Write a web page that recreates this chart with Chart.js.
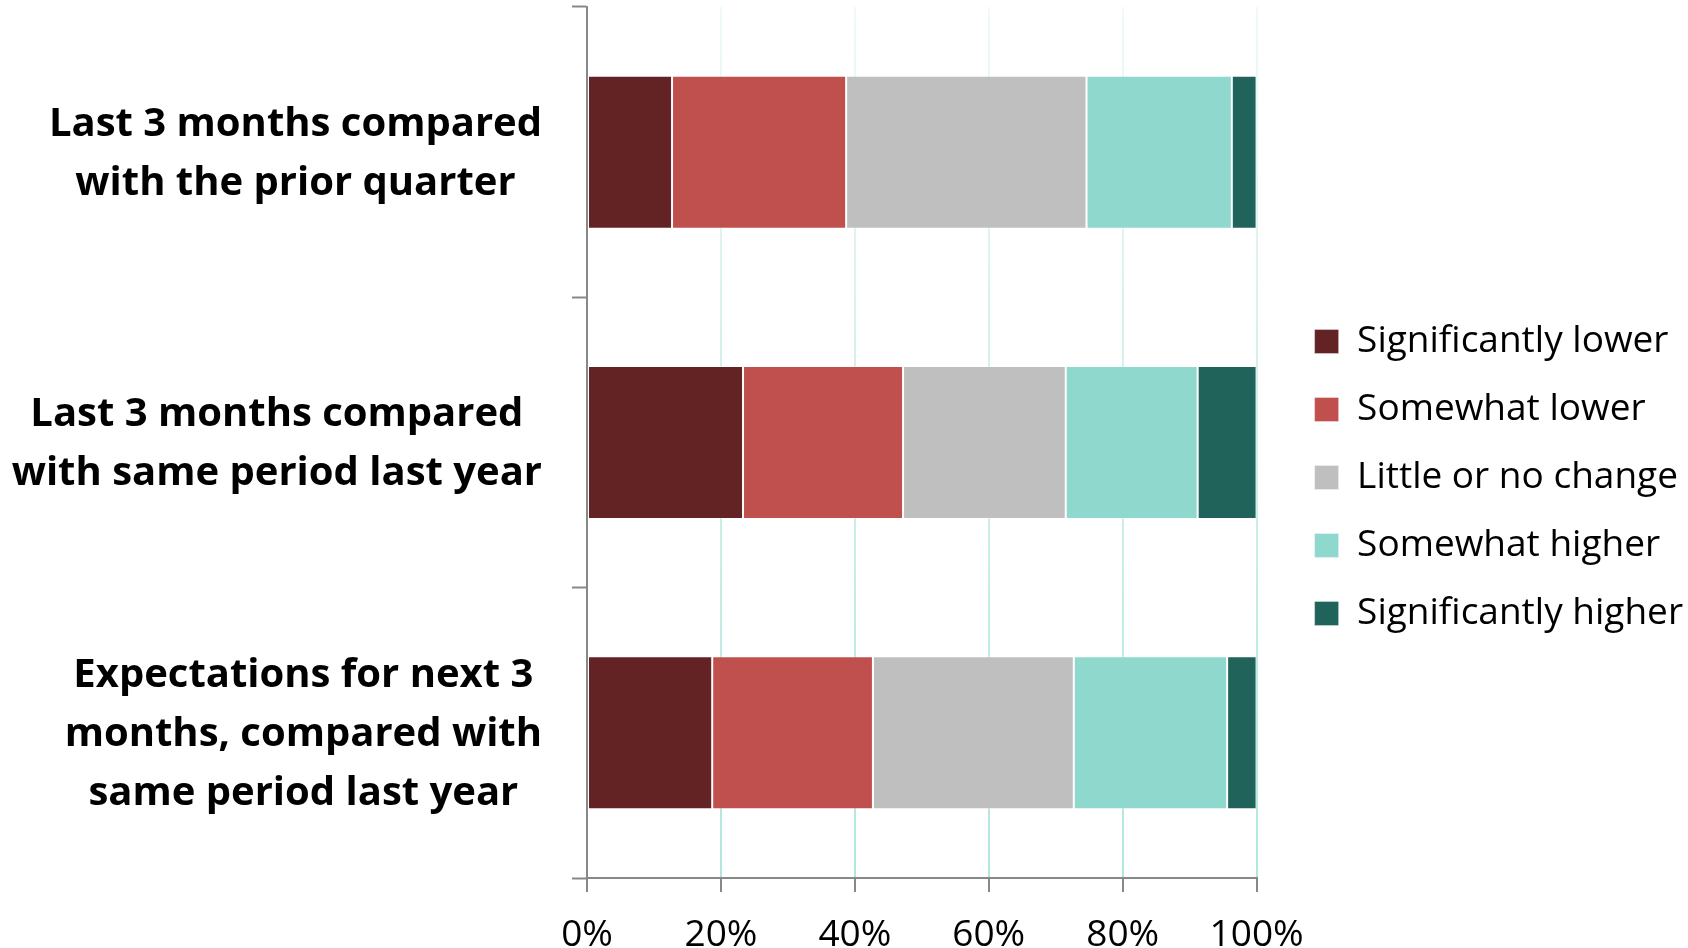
<!DOCTYPE html>
<html>
<head>
<meta charset="utf-8">
<title>Sales comparison</title>
<script src="https://cdn.jsdelivr.net/npm/chart.js@4/dist/chart.umd.min.js"></script>
<style>
  html, body { margin: 0; padding: 0; background: #fff; }
  #wrap { width: 1688px; height: 948px; }
</style>
</head>
<body>
<div id="wrap"><canvas id="chart" width="1688" height="948"></canvas></div>
<script>
// Question rows (each entry is one label, split into its lines)
const categories = [
  ['Last 3 months compared', 'with the prior quarter'],
  ['Last 3 months compared', 'with same period last year'],
  ['Expectations for next 3', 'months, compared with', 'same period last year']
];

// Share of responses (%) per answer, one value per row
const significantlyLower  = [12.7, 23.3, 18.7];
const somewhatLower       = [26.0, 23.9, 24.0];
const littleOrNoChange    = [35.9, 24.3, 30.0];
const somewhatHigher      = [21.7, 19.7, 22.9];
const significantlyHigher = [3.7, 8.8, 4.4];

const seriesNames = ['Significantly lower', 'Somewhat lower', 'Little or no change', 'Somewhat higher', 'Significantly higher'];
const seriesColors = ['#632324', '#C0504D', '#BFBFBF', '#8ED8CE', '#1F635A'];

// Percent axis ticks
const xTicks = [0, 20, 40, 60, 80, 100];

const seriesValues = [significantlyLower, somewhatLower, littleOrNoChange, somewhatHigher, significantlyHigher];

const axisGrey = '#888888';
let gridGradient = null;

// Category labels drawn as centred blocks, right-aligned against the axis
const rowLabels = {
  id: 'rowLabels',
  afterDraw(chart) {
    const ctx = chart.ctx;
    const y = chart.scales.y;
    const right = chart.chartArea.left - 45;
    const lineGap = 59;
    ctx.save();
    ctx.font = 'bold 40px "Open Sans"';
    ctx.fillStyle = '#000';
    ctx.textAlign = 'center';
    ctx.textBaseline = 'middle';
    categories.forEach((lines, i) => {
      const cy = y.getPixelForTick(i) + 2;
      const widest = Math.max(...lines.map(l => ctx.measureText(l).width));
      const cx = right - widest / 2;
      const top = cy - (lines.length - 1) * lineGap / 2;
      lines.forEach((line, j) => ctx.fillText(line, cx, top + j * lineGap));
    });
    ctx.restore();
  }
};

// Shift the legend away from the plot area
const legendShift = {
  id: 'legendShift',
  afterLayout(chart) {
    const lg = chart.legend;
    if (lg) { lg.left += 27; lg.right += 27; }
  }
};

new Chart(document.getElementById('chart'), {
  type: 'bar',
  data: {
    labels: categories,
    datasets: seriesValues.map((vals, i) => ({
      label: seriesNames[i],
      data: vals,
      backgroundColor: seriesColors[i],
      borderColor: 'rgba(255,255,255,0.35)',
      borderWidth: 1,
      borderSkipped: false,
      barPercentage: 0.527,
      categoryPercentage: 1.0
    }))
  },
  options: {
    indexAxis: 'y',
    responsive: false,
    animation: false,
    layout: { padding: { top: 7, right: 22, bottom: 0, left: 0 } },
    plugins: {
      tooltip: { enabled: false },
      legend: {
        position: 'right',
        align: 'center',
        labels: {
          boxWidth: 24,
          boxHeight: 24,
          padding: 31,
          color: '#000',
          font: { family: '"Open Sans"', size: 37 }
        }
      }
    },
    scales: {
      x: {
        stacked: true,
        min: 0,
        max: 100,
        afterBuildTicks(scale) { scale.ticks = xTicks.map(v => ({ value: v })); },
        afterFit(scale) { scale.height = 70; },
        ticks: {
          padding: 21,
          color: '#000',
          font: { family: '"Open Sans"', size: 37 },
          callback: v => v + '%'
        },
        grid: {
          drawOnChartArea: true,
          lineWidth: 2,
          color(ctx) {
            if (ctx.tick && ctx.tick.value === 0) return 'rgba(0,0,0,0)';
            const area = ctx.chart.chartArea;
            if (!area) return '#cdeee8';
            if (!gridGradient) {
              gridGradient = ctx.chart.ctx.createLinearGradient(0, area.top, 0, area.bottom);
              gridGradient.addColorStop(0, '#eefaf8');
              gridGradient.addColorStop(0.4, '#d4f1ec');
              gridGradient.addColorStop(1, '#b2e7de');
            }
            return gridGradient;
          },
          tickColor: axisGrey,
          tickWidth: 2,
          tickLength: 14
        },
        border: { display: true, color: axisGrey, width: 2 }
      },
      y: {
        stacked: true,
        afterFit(scale) { scale.width = 587; },
        ticks: { display: false },
        grid: {
          offset: true,
          drawOnChartArea: false,
          drawTicks: true,
          tickLength: 15,
          tickColor: axisGrey,
          tickWidth: 2
        },
        border: { display: true, color: axisGrey, width: 2 }
      }
    }
  },
  plugins: [rowLabels, legendShift]
});
</script>
</body>
</html>
